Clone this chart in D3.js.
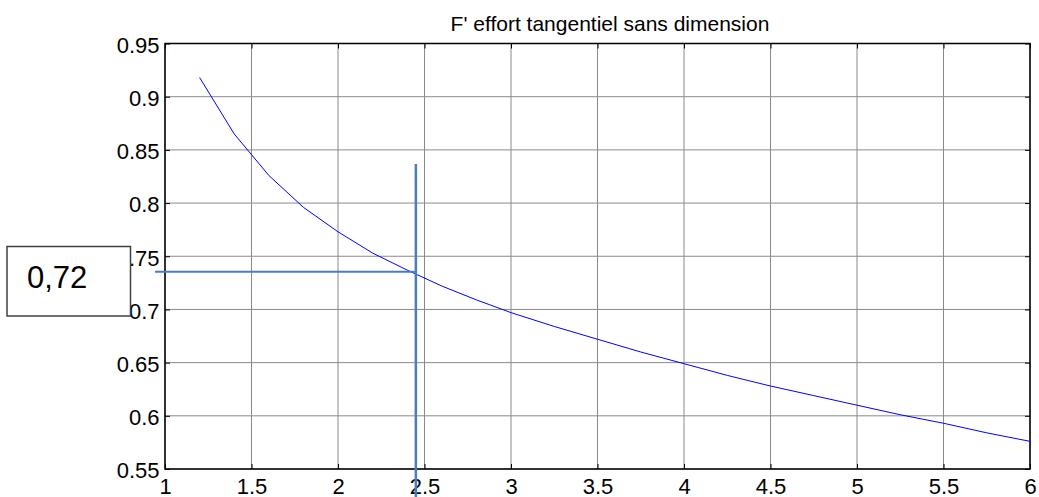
<!DOCTYPE html>
<html>
<head>
<meta charset="utf-8">
<script src="https://cdn.jsdelivr.net/npm/d3@7"></script>
<style>
body { margin: 0; background: #fff; }
text { font-family: "Liberation Sans", Arial, sans-serif; }
</style>
</head>
<body>
<script>
// data
var xValues = [1.2, 1.4, 1.6, 1.8, 2.0, 2.2, 2.4, 2.6, 2.8, 3.0, 3.25, 3.5, 3.75, 4.0, 4.25, 4.5, 4.75, 5.0, 5.25, 5.5, 5.75, 6.0];
var yValues = [0.918, 0.865, 0.826, 0.796, 0.773, 0.753, 0.737, 0.722, 0.709, 0.697, 0.684, 0.672, 0.660, 0.649, 0.638, 0.628, 0.619, 0.610, 0.601, 0.593, 0.584, 0.576];
var xTicks = [1, 1.5, 2, 2.5, 3, 3.5, 4, 4.5, 5, 5.5, 6];
var yTicks = [0.55, 0.6, 0.65, 0.7, 0.75, 0.8, 0.85, 0.9, 0.95];
var title = "F' effort tangentiel sans dimension";
var readX = 2.45, readY = 0.7355, readLabel = "0,72";

var W = 1039, H = 497;
var margin = {top: 43.5, right: 9, bottom: 28, left: 165};
var width = W - margin.left - margin.right;
var height = H - margin.top - margin.bottom;

var svg = d3.select("body").append("svg")
    .attr("width", W)
    .attr("height", H);

var x = d3.scaleLinear().domain([1, 6]).range([margin.left, margin.left + width]);
var y = d3.scaleLinear().domain([0.55, 0.95]).range([margin.top + height, margin.top]);

//grid
svg.append("g").selectAll("line").data(xTicks).enter().append("line")
    .attr("x1", function(d) { return x(d); }).attr("x2", function(d) { return x(d); })
    .attr("y1", y(0.55)).attr("y2", y(0.95))
    .attr("stroke", "#8a8a8a").attr("stroke-width", 1);
svg.append("g").selectAll("line").data(yTicks).enter().append("line")
    .attr("x1", x(1)).attr("x2", x(6))
    .attr("y1", function(d) { return y(d); }).attr("y2", function(d) { return y(d); })
    .attr("stroke", "#8a8a8a").attr("stroke-width", 1);

//axes with inner ticks
var fmt = function(d) { return String(d); };
var axB = svg.append("g").attr("transform", "translate(0," + y(0.55) + ")")
    .call(d3.axisBottom(x).tickValues(xTicks).tickFormat(fmt).tickSizeInner(-5).tickSizeOuter(0).tickPadding(9.5));
var axT = svg.append("g").attr("transform", "translate(0," + y(0.95) + ")")
    .call(d3.axisTop(x).tickValues(xTicks).tickFormat("").tickSizeInner(-5).tickSizeOuter(0));
var axL = svg.append("g").attr("transform", "translate(" + x(1) + ",0)")
    .call(d3.axisLeft(y).tickValues(yTicks).tickFormat(fmt).tickSizeInner(-5).tickSizeOuter(0).tickPadding(5.5));
var axR = svg.append("g").attr("transform", "translate(" + x(6) + ",0)")
    .call(d3.axisRight(y).tickValues(yTicks).tickFormat("").tickSizeInner(-5).tickSizeOuter(0));

[axB, axT, axL, axR].forEach(function(a) {
    a.select(".domain").remove();
    a.selectAll("line").attr("stroke", "#000");
    a.selectAll("text").attr("fill", "#000").style("font-size", "22px")
        .style("font-family", "'Liberation Sans', Arial, sans-serif");
});
axB.selectAll("text").attr("dy", "0.71em");
axL.selectAll("text").attr("dy", "0.4em");

//box
svg.append("rect")
    .attr("x", x(1)).attr("y", y(0.95))
    .attr("width", width).attr("height", height)
    .attr("fill", "none").attr("stroke", "#000").attr("stroke-width", 1.5);

//curve
var line = d3.line()
    .x(function(d, i) { return x(xValues[i]); })
    .y(function(d) { return y(d); });
svg.append("path")
    .datum(yValues)
    .attr("d", line)
    .attr("fill", "none")
    .attr("stroke", "#0000ff")
    .attr("stroke-width", 1);

//reading lines
svg.append("line")
    .attr("x1", 155).attr("x2", x(readX) - 1)
    .attr("y1", y(readY)).attr("y2", y(readY))
    .attr("stroke", "#4a7ebb").attr("stroke-width", 2);
svg.append("line")
    .attr("x1", x(readX)).attr("x2", x(readX))
    .attr("y1", 164).attr("y2", H + 5)
    .attr("stroke", "#4a7ebb").attr("stroke-width", 2.5);

//label box
svg.append("rect")
    .attr("x", 7).attr("y", 246.5)
    .attr("width", 123.5).attr("height", 69.5)
    .attr("fill", "#fff").attr("stroke", "#404040").attr("stroke-width", 1.5);
svg.append("text")
    .attr("x", 27).attr("y", 288)
    .style("font-size", "31px")
    .attr("fill", "#000")
    .text(readLabel);

//title
svg.append("text")
    .attr("x", 610).attr("y", 31)
    .attr("text-anchor", "middle")
    .style("font-size", "21px")
    .attr("fill", "#000")
    .text(title);
</script>
</body>
</html>
